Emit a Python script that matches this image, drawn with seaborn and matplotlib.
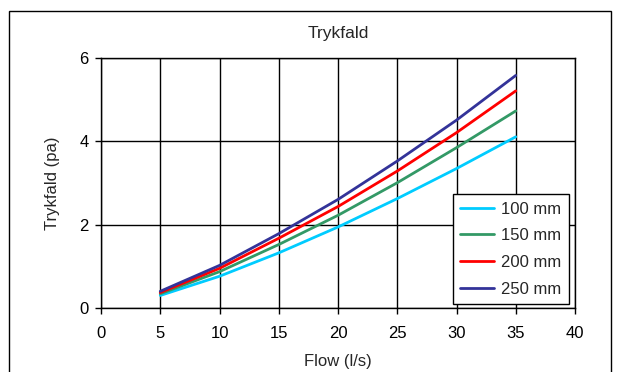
import matplotlib
matplotlib.use("Agg")
import matplotlib.pyplot as plt
from matplotlib.patches import Rectangle
import pandas as pd
import seaborn as sns

flow = [5, 10, 15, 20, 25, 30, 35]
dp_100 = [0.30, 0.76, 1.32, 1.94, 2.62, 3.34, 4.10]
dp_150 = [0.34, 0.87, 1.52, 2.22, 3.00, 3.84, 4.72]
dp_200 = [0.37, 0.95, 1.67, 2.43, 3.28, 4.20, 5.20]
dp_250 = [0.40, 1.02, 1.78, 2.60, 3.52, 4.50, 5.57]
series_labels = ["100 mm", "150 mm", "200 mm", "250 mm"]
colors = ["#00CCFF", "#339966", "#FF0000", "#333399"]
x_ticks = [0, 5, 10, 15, 20, 25, 30, 35, 40]
y_ticks = [0, 2, 4, 6]

frames = []
for lab, vals in zip(series_labels, [dp_100, dp_150, dp_200, dp_250]):
    frames.append(pd.DataFrame({"Flow": flow, "Trykfald": vals, "Dimension": lab}))
df = pd.concat(frames, ignore_index=True)

sns.set_style("white")
plt.rcParams["font.family"] = ["Liberation Sans", "DejaVu Sans"]

fs = 12
fig = plt.figure(figsize=(6.17, 3.72), dpi=100)
ax = fig.add_axes([101 / 617, 1 - 308 / 372, 474 / 617, 250.5 / 372])

sns.lineplot(data=df, x="Flow", y="Trykfald", hue="Dimension",
             palette=dict(zip(series_labels, colors)), linewidth=2.0, ax=ax)

ax.set_xlim(0, 40)
ax.set_ylim(0, 6)
ax.set_xticks(x_ticks)
ax.set_yticks(y_ticks)
ax.grid(True, color="black", linewidth=1.0)
for s in ax.spines.values():
    s.set_visible(True)
    s.set_color("black")
    s.set_linewidth(1.0)
ax.tick_params(axis="both", direction="out", length=4, width=1.0, color="black",
               labelsize=fs, labelcolor="black", bottom=True, left=True)
ax.tick_params(axis="x", pad=9)
ax.tick_params(axis="y", pad=5)
ax.set_xlabel("Flow (l/s)", fontsize=fs, labelpad=9)
ax.set_ylabel("Trykfald (pa)", fontsize=fs, labelpad=14)
ax.set_title("Trykfald", fontsize=12.5, pad=14)

leg = ax.legend(loc="lower right", bbox_to_anchor=(468 / 474, 4 / 250.5), frameon=True,
                fancybox=False, edgecolor="black", fontsize=fs, handlelength=2.0,
                borderpad=0.45, labelspacing=0.7, handletextpad=0.45, borderaxespad=0)
leg.get_frame().set_linewidth(1.0)
leg.get_frame().set_alpha(1)

# outer chart frame
fig.patches.append(Rectangle((9 / 617, -0.1), (611 - 9) / 617, 1.1 - 10.5 / 372,
                             transform=fig.transFigure, fill=False,
                             edgecolor="black", linewidth=1.0))

fig.savefig("out.png", dpi=100)
